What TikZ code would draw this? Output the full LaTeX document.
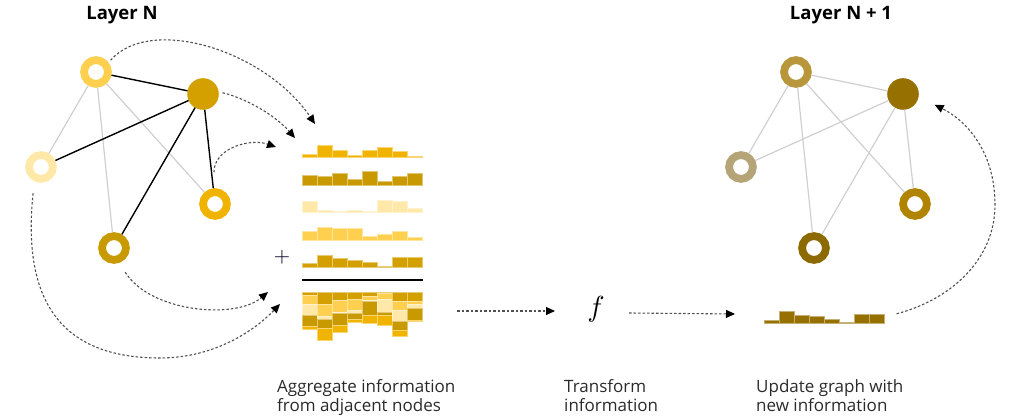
\documentclass[tikz,border=0pt]{standalone}
\usepackage{graphicx}
\usepackage{fontspec}
\setmainfont{Open Sans}
\usetikzlibrary{arrows.meta,calc}
\definecolor{cA}{HTML}{FFD04F}
\definecolor{cB}{HTML}{D4A000}
\definecolor{cC}{HTML}{FFE8A8}
\definecolor{cD}{HTML}{F0B400}
\definecolor{cE}{HTML}{C89A00}
\definecolor{nA}{HTML}{B8963C}
\definecolor{nB}{HTML}{967000}
\definecolor{nC}{HTML}{B5A478}
\definecolor{nD}{HTML}{B08400}
\definecolor{nE}{HTML}{8C6A00}
\definecolor{edgegray}{HTML}{CFCFCF}
\definecolor{flowgray}{HTML}{505050}
\definecolor{txt}{HTML}{2A2A2A}
\begin{document}
\begin{tikzpicture}[x=1pt,y=-1pt,
  ring/.style={circle, minimum size=23.8pt, inner sep=0pt, line width=7.8pt, draw=#1, fill=white},
  hub/.style={circle, minimum size=31.6pt, inner sep=0pt, outer sep=0pt, fill=#1},
  edgeK/.style={line width=1.4pt, black},
  edgeG/.style={line width=1.2pt, edgegray},
  flow/.style={line width=1.1pt, flowgray, dash pattern=on 2.5pt off 2pt,
    -{Triangle[length=9pt,width=8pt,color=black]}},
  bar/.style={fill=#1, draw=#1!55!white, line width=0.5pt},
  title/.style={font=\fontsize{18.5}{22}\selectfont\bfseries, inner sep=0pt},
  caption/.style={font=\fontsize{17}{19}\selectfont, text=txt, align=left, inner sep=0pt},
  ghost/.style={inner sep=0pt, outer sep=0pt}
]
\useasboundingbox (0,0) rectangle (1013,419);

% titles
\node[title, anchor=base] (t1) at (122,19.5) {Layer N};
\node[title, anchor=base] (t2) at (841,19.5) {Layer N + 1};

% ---------- Layer N graph ----------
\node[ring=cA] (A) at (96,72) {};
\node[hub=cB]  (B) at (203,94) {};
\node[ring=cC] (C) at (41,167) {};
\node[ring=cD] (D) at (215,204) {};
\node[ring=cE] (E) at (114,248) {};
\draw[edgeG] (A) -- (C);
\draw[edgeG] (A) -- (E);
\draw[edgeG] (A) -- (D);
\draw[edgeK] (A) -- (B);
\draw[edgeK] (C) -- (B);
\draw[edgeK] (E) -- (B);
\draw[edgeK] (D) -- (B);

% ---------- Layer N+1 graph ----------
\node[ring=nA] (A2) at (796,72) {};
\node[hub=nB]  (B2) at (903,94) {};
\node[ring=nC] (C2) at (741,167) {};
\node[ring=nD] (D2) at (915,204) {};
\node[ring=nE] (E2) at (814,248) {};
\draw[edgeG] (A2) -- (C2);
\draw[edgeG] (A2) -- (E2);
\draw[edgeG] (A2) -- (D2);
\draw[edgeG] (A2) -- (B2);
\draw[edgeG] (C2) -- (B2);
\draw[edgeG] (E2) -- (B2);
\draw[edgeG] (D2) -- (B2);

% ---------- neighbour bar rows ----------
\foreach \h [count=\i from 0] in {3.7,12.7,7.3,2.7,7.3,10,6.3,1.3}
  \path[bar=cD] ({302+15*\i},157.7) rectangle ++(15,-\h);
\foreach \h [count=\i from 0] in {10.3,8.7,11.7,6.3,14,3.7,8.7,11.7}
  \path[bar=cE] ({302+15*\i},185.3) rectangle ++(15,-\h);
\foreach \h [count=\i from 0] in {11.3,2.7,1.3,2.7,1.3,12.7,11.3,4.7}
  \path[bar=cC] ({302+15*\i},212.7) rectangle ++(15,-\h);
\foreach \h [count=\i from 0] in {8.7,12.3,11.3,11.3,3.7,6,8.7,2.3}
  \path[bar=cA] ({302+15*\i},240) rectangle ++(15,-\h);
\foreach \h [count=\i from 0] in {3.7,12.3,8.7,7.3,4.7,1.3,9.7,9.7}
  \path[bar=cB] ({302+15*\i},267.3) rectangle ++(15,-\h);

\node[text=black!85!blue, inner sep=0pt] (plus) at (282,257) {\scalebox{2.1}{$+$}};
\draw[line width=1.3pt] (302,280) -- (423,280);

% ---------- stacked aggregate ----------
\foreach \a/\b/\c/\d/\e [count=\i from 0] in
  {3.7/8.7/11.3/10.3/3.7, 12.3/12.3/2.7/8.7/12.7, 8.7/11.3/1.3/11.7/7.3,
   7.3/11.3/2.7/6.3/2.7, 4.7/3.7/1.3/14/7.3, 1.3/6/12.7/3.7/10,
   9.7/8.7/11.3/8.7/6.3, 9.7/2.3/4.7/11.7/1.3}
{
  \pgfmathsetmacro{\xx}{302+15*\i}
  \path[bar=cB] (\xx,292) rectangle ++(15,\a);
  \path[bar=cA] (\xx,292+\a) rectangle ++(15,\b);
  \path[bar=cC] (\xx,292+\a+\b) rectangle ++(15,\c);
  \path[bar=cE] (\xx,292+\a+\b+\c) rectangle ++(15,\d);
  \path[bar=cD] (\xx,292+\a+\b+\c+\d) rectangle ++(15,\e);
}
\node[ghost, minimum width=120pt, minimum height=40pt] (agg) at (362,311) {};

% ---------- f and output ----------
\node[inner sep=0pt] (fn) at (596,309) {\scalebox{2.9}{$f$}};
\foreach \h [count=\i from 0] in {3.7,12.3,8.7,7.3,4.7,1.3,9.7,9.7}
  \path[bar=nB] ({764+15*\i},323.7) rectangle ++(15,-\h);
\node[ghost, minimum width=120pt, minimum height=13pt] (outbars) at (824,317) {};

% ---------- captions ----------
\node[caption, anchor=base west] (cap1) at (277,411.7) {Aggregate information\\from adjacent nodes};
\node[caption, anchor=base west] (cap2) at (564,411.7) {Transform\\information};
\node[caption, anchor=base west] (cap3) at (756,411.7) {Update graph with\\new information};

% ---------- flows ----------
\coordinate (in1) at (315,124);
\coordinate (in2) at (295,138);
\coordinate (in3) at (276,147);
\coordinate (in4) at (268,292);
\coordinate (in5) at (280,304);
\draw[flow, shorten <=3pt] (A.37) .. controls (150,15) and (265,50) .. (in1);
\draw[flow, shorten <=4pt] (B.8) .. controls (245,98) and (275,115) .. (in2);
\draw[flow, shorten <=16pt] (D.94) .. controls (214,148) and (250,138) .. (in3);
\draw[flow, shorten <=11pt] (E.-70) .. controls (150,312) and (235,320) .. (in4);
\draw[flow, shorten <=12pt] (C.-115) .. controls (22,300) and (60,358) .. (160,358)
   .. controls (215,358) and (255,330) .. (in5);
\draw[flow] ($(agg.east)+(35,0)$) -- ($(fn.center)+(-41,2)$);
\draw[flow] ($(fn.center)+(33,4)$) -- ($(outbars.west)+(-29,-3)$);
\draw[flow, shorten <=13pt, shorten >=18pt] (outbars.east) .. controls (950,300) and (995,260) .. (995,205)
   .. controls (995,150) and (965,120) .. (B2.-10);
\end{tikzpicture}
\end{document}
